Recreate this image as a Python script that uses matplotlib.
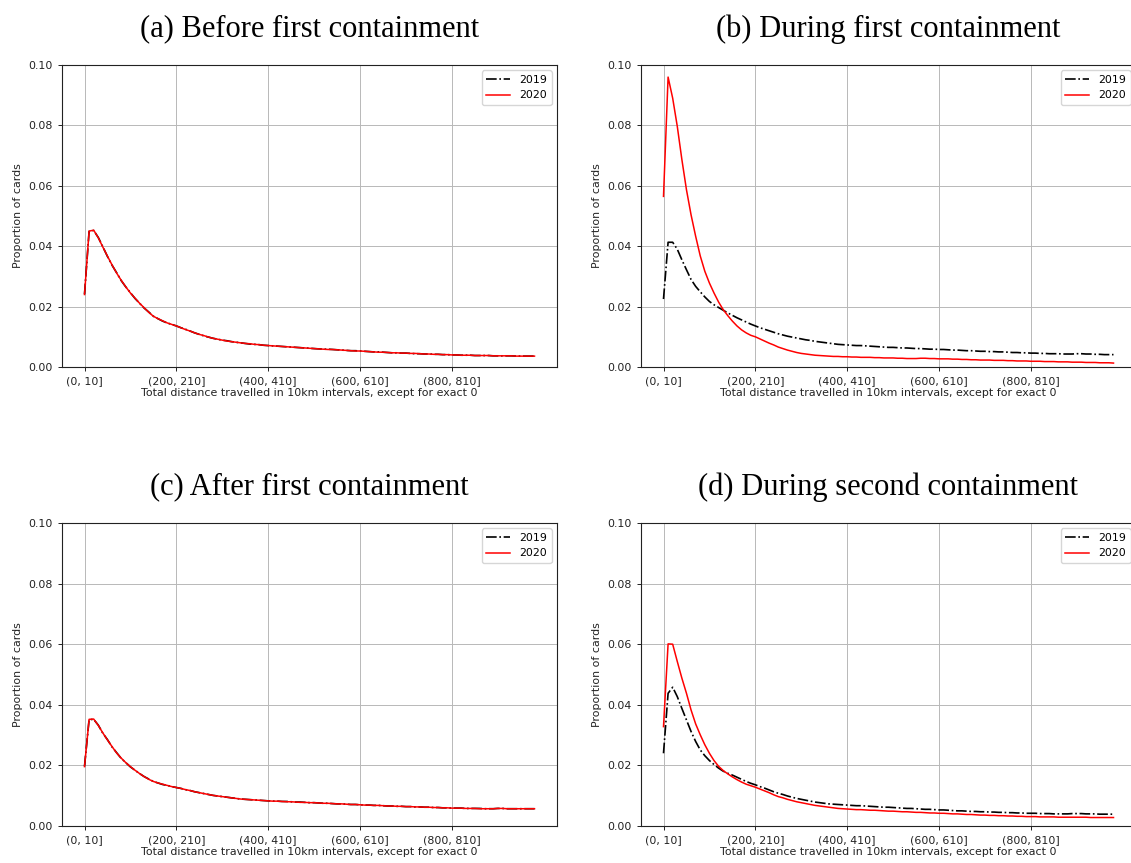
import numpy as np
import matplotlib
matplotlib.use("Agg")
import matplotlib.pyplot as plt

# proportion of cards per 10km distance bin, bins (0,10] ... (980,990]
a_2019 = [
    0.0241, 0.0449, 0.0452, 0.0429, 0.0398, 0.0366, 0.0337, 0.0312, 0.0286, 0.0265,
    0.0246, 0.0227, 0.0211, 0.0195, 0.0182, 0.0168, 0.0160, 0.0152, 0.0146, 0.0141,
    0.0136, 0.0130, 0.0125, 0.0119, 0.0113, 0.0108, 0.0103, 0.0099, 0.0095, 0.0092,
    0.0089, 0.0087, 0.0084, 0.0082, 0.0080, 0.0078, 0.0076, 0.0075, 0.0074, 0.0072,
    0.0071, 0.0070, 0.0069, 0.0068, 0.0067, 0.0066, 0.0065, 0.0064, 0.0063, 0.0062,
    0.0061, 0.0060, 0.0059, 0.0059, 0.0058, 0.0057, 0.0056, 0.0055, 0.0054, 0.0054,
    0.0053, 0.0052, 0.0051, 0.0050, 0.0050, 0.0049, 0.0048, 0.0047, 0.0047, 0.0046,
    0.0046, 0.0045, 0.0044, 0.0044, 0.0043, 0.0043, 0.0042, 0.0042, 0.0041, 0.0041,
    0.0040, 0.0040, 0.0039, 0.0039, 0.0039, 0.0038, 0.0038, 0.0038, 0.0038, 0.0037,
    0.0037, 0.0037, 0.0037, 0.0037, 0.0036, 0.0036, 0.0036, 0.0036, 0.0036]
a_2020 = [
    0.0240, 0.0450, 0.0453, 0.0428, 0.0397, 0.0367, 0.0338, 0.0311, 0.0287, 0.0265,
    0.0245, 0.0228, 0.0211, 0.0196, 0.0181, 0.0168, 0.0160, 0.0153, 0.0146, 0.0141,
    0.0136, 0.0130, 0.0124, 0.0119, 0.0113, 0.0108, 0.0104, 0.0099, 0.0095, 0.0092,
    0.0089, 0.0086, 0.0084, 0.0082, 0.0080, 0.0078, 0.0077, 0.0075, 0.0074, 0.0072,
    0.0071, 0.0070, 0.0069, 0.0068, 0.0067, 0.0066, 0.0065, 0.0064, 0.0063, 0.0062,
    0.0061, 0.0060, 0.0059, 0.0058, 0.0058, 0.0057, 0.0056, 0.0055, 0.0054, 0.0053,
    0.0053, 0.0052, 0.0051, 0.0050, 0.0049, 0.0049, 0.0048, 0.0047, 0.0047, 0.0046,
    0.0046, 0.0045, 0.0045, 0.0044, 0.0043, 0.0043, 0.0042, 0.0042, 0.0041, 0.0041,
    0.0040, 0.0040, 0.0039, 0.0039, 0.0039, 0.0038, 0.0038, 0.0038, 0.0038, 0.0037,
    0.0037, 0.0037, 0.0037, 0.0037, 0.0036, 0.0036, 0.0036, 0.0036, 0.0036]

b_2019 = [
    0.0225, 0.0413, 0.0413, 0.0390, 0.0355, 0.0322, 0.0290, 0.0267, 0.0249, 0.0232,
    0.0217, 0.0206, 0.0197, 0.0188, 0.0179, 0.0171, 0.0163, 0.0156, 0.0149, 0.0142,
    0.0136, 0.0130, 0.0125, 0.0120, 0.0115, 0.0110, 0.0106, 0.0102, 0.0099, 0.0096,
    0.0093, 0.0090, 0.0088, 0.0085, 0.0083, 0.0081, 0.0079, 0.0077, 0.0075, 0.0074,
    0.0073, 0.0072, 0.0071, 0.0071, 0.0070, 0.0069, 0.0068, 0.0067, 0.0066, 0.0065,
    0.0065, 0.0064, 0.0063, 0.0063, 0.0062, 0.0061, 0.0061, 0.0060, 0.0059, 0.0059,
    0.0058, 0.0058, 0.0057, 0.0056, 0.0056, 0.0055, 0.0054, 0.0054, 0.0053, 0.0052,
    0.0052, 0.0051, 0.0051, 0.0050, 0.0050, 0.0049, 0.0048, 0.0048, 0.0047, 0.0047,
    0.0046, 0.0046, 0.0045, 0.0045, 0.0044, 0.0044, 0.0044, 0.0043, 0.0043, 0.0043,
    0.0044, 0.0044, 0.0043, 0.0043, 0.0042, 0.0042, 0.0041, 0.0041, 0.0041]
b_2020 = [
    0.0565, 0.0960, 0.0890, 0.0797, 0.0687, 0.0587, 0.0504, 0.0433, 0.0368, 0.0317,
    0.0278, 0.0245, 0.0215, 0.0190, 0.0170, 0.0152, 0.0136, 0.0123, 0.0113, 0.0105,
    0.0100, 0.0093, 0.0086, 0.0079, 0.0073, 0.0066, 0.0061, 0.0056, 0.0052, 0.0048,
    0.0045, 0.0043, 0.0041, 0.0039, 0.0038, 0.0037, 0.0036, 0.0035, 0.0035, 0.0034,
    0.0034, 0.0033, 0.0033, 0.0032, 0.0032, 0.0032, 0.0031, 0.0031, 0.0030, 0.0030,
    0.0030, 0.0029, 0.0029, 0.0028, 0.0028, 0.0028, 0.0029, 0.0029, 0.0028, 0.0028,
    0.0027, 0.0027, 0.0027, 0.0026, 0.0026, 0.0025, 0.0025, 0.0024, 0.0024, 0.0023,
    0.0023, 0.0023, 0.0022, 0.0022, 0.0022, 0.0021, 0.0021, 0.0020, 0.0020, 0.0020,
    0.0019, 0.0019, 0.0019, 0.0018, 0.0018, 0.0018, 0.0017, 0.0017, 0.0017, 0.0016,
    0.0016, 0.0016, 0.0015, 0.0015, 0.0015, 0.0014, 0.0014, 0.0014, 0.0013]

c_2019 = [
    0.0197, 0.0351, 0.0352, 0.0333, 0.0306, 0.0285, 0.0261, 0.0242, 0.0223, 0.0209,
    0.0195, 0.0184, 0.0173, 0.0163, 0.0155, 0.0147, 0.0142, 0.0137, 0.0134, 0.0130,
    0.0127, 0.0124, 0.0120, 0.0117, 0.0113, 0.0110, 0.0107, 0.0104, 0.0101, 0.0099,
    0.0097, 0.0095, 0.0093, 0.0091, 0.0089, 0.0088, 0.0087, 0.0086, 0.0085, 0.0084,
    0.0083, 0.0082, 0.0082, 0.0081, 0.0081, 0.0080, 0.0079, 0.0079, 0.0078, 0.0077,
    0.0077, 0.0076, 0.0075, 0.0075, 0.0074, 0.0073, 0.0073, 0.0072, 0.0071, 0.0071,
    0.0070, 0.0069, 0.0069, 0.0068, 0.0068, 0.0067, 0.0066, 0.0066, 0.0065, 0.0065,
    0.0064, 0.0064, 0.0063, 0.0063, 0.0062, 0.0062, 0.0061, 0.0061, 0.0060, 0.0060,
    0.0059, 0.0059, 0.0059, 0.0058, 0.0058, 0.0058, 0.0058, 0.0057, 0.0057, 0.0057,
    0.0058, 0.0058, 0.0057, 0.0057, 0.0057, 0.0057, 0.0057, 0.0057, 0.0057]
c_2020 = [
    0.0196, 0.0352, 0.0353, 0.0332, 0.0307, 0.0284, 0.0262, 0.0241, 0.0224, 0.0209,
    0.0196, 0.0184, 0.0173, 0.0163, 0.0154, 0.0147, 0.0142, 0.0138, 0.0134, 0.0130,
    0.0127, 0.0124, 0.0120, 0.0117, 0.0113, 0.0110, 0.0107, 0.0104, 0.0101, 0.0099,
    0.0097, 0.0095, 0.0093, 0.0091, 0.0089, 0.0088, 0.0087, 0.0086, 0.0085, 0.0084,
    0.0083, 0.0082, 0.0082, 0.0081, 0.0080, 0.0080, 0.0079, 0.0078, 0.0078, 0.0077,
    0.0077, 0.0076, 0.0075, 0.0075, 0.0074, 0.0073, 0.0073, 0.0072, 0.0071, 0.0071,
    0.0070, 0.0069, 0.0069, 0.0068, 0.0068, 0.0067, 0.0066, 0.0066, 0.0065, 0.0065,
    0.0064, 0.0064, 0.0063, 0.0063, 0.0062, 0.0062, 0.0061, 0.0061, 0.0060, 0.0060,
    0.0059, 0.0059, 0.0059, 0.0058, 0.0058, 0.0058, 0.0057, 0.0057, 0.0057, 0.0057,
    0.0058, 0.0058, 0.0057, 0.0057, 0.0057, 0.0057, 0.0057, 0.0057, 0.0057]

d_2019 = [
    0.0240, 0.0438, 0.0458, 0.0427, 0.0388, 0.0350, 0.0312, 0.0279, 0.0251, 0.0232,
    0.0216, 0.0203, 0.0191, 0.0181, 0.0174, 0.0168, 0.0161, 0.0154, 0.0147, 0.0141,
    0.0136, 0.0130, 0.0125, 0.0119, 0.0113, 0.0108, 0.0104, 0.0099, 0.0095, 0.0091,
    0.0088, 0.0085, 0.0082, 0.0079, 0.0077, 0.0075, 0.0073, 0.0072, 0.0071, 0.0070,
    0.0069, 0.0068, 0.0067, 0.0067, 0.0066, 0.0065, 0.0064, 0.0063, 0.0062, 0.0062,
    0.0061, 0.0060, 0.0059, 0.0058, 0.0058, 0.0057, 0.0056, 0.0055, 0.0055, 0.0054,
    0.0053, 0.0053, 0.0052, 0.0051, 0.0050, 0.0050, 0.0049, 0.0048, 0.0048, 0.0047,
    0.0047, 0.0046, 0.0046, 0.0045, 0.0045, 0.0044, 0.0044, 0.0043, 0.0043, 0.0042,
    0.0042, 0.0042, 0.0041, 0.0041, 0.0041, 0.0040, 0.0040, 0.0040, 0.0040, 0.0041,
    0.0041, 0.0041, 0.0040, 0.0040, 0.0040, 0.0039, 0.0039, 0.0039, 0.0039]
d_2020 = [
    0.0328, 0.0601, 0.0600, 0.0543, 0.0488, 0.0438, 0.0383, 0.0337, 0.0301, 0.0268,
    0.0240, 0.0216, 0.0197, 0.0183, 0.0172, 0.0162, 0.0153, 0.0145, 0.0138, 0.0133,
    0.0128, 0.0122, 0.0116, 0.0110, 0.0103, 0.0097, 0.0093, 0.0088, 0.0084, 0.0080,
    0.0077, 0.0074, 0.0071, 0.0068, 0.0066, 0.0064, 0.0062, 0.0060, 0.0058, 0.0057,
    0.0056, 0.0055, 0.0054, 0.0054, 0.0053, 0.0052, 0.0052, 0.0051, 0.0050, 0.0049,
    0.0049, 0.0048, 0.0047, 0.0047, 0.0046, 0.0045, 0.0045, 0.0044, 0.0043, 0.0043,
    0.0042, 0.0042, 0.0041, 0.0040, 0.0040, 0.0039, 0.0038, 0.0038, 0.0037, 0.0036,
    0.0036, 0.0035, 0.0035, 0.0034, 0.0034, 0.0033, 0.0033, 0.0032, 0.0032, 0.0031,
    0.0031, 0.0031, 0.0030, 0.0030, 0.0030, 0.0030, 0.0029, 0.0029, 0.0029, 0.0029,
    0.0029, 0.0029, 0.0029, 0.0028, 0.0028, 0.0028, 0.0028, 0.0028, 0.0028]

titles = ["(a) Before first containment", "(b) During first containment",
          "(c) After first containment", "(d) During second containment"]
tick_pos = [0, 20, 40, 60, 80]
tick_labels = ["(0, 10]", "(200, 210]", "(400, 410]", "(600, 610]", "(800, 810]"]

panels = [(a_2019, a_2020), (b_2019, b_2020), (c_2019, c_2020), (d_2019, d_2020)]

W, H = 1131, 863
fig = plt.figure(figsize=(W / 100, H / 100), dpi=100)
plt.rcParams['font.family'] = 'DejaVu Sans'

# axes boxes in pixels: left, top, right, bottom
boxes = [(62, 65, 557, 367), (641, 65, 1136, 367),
         (62, 523, 557, 826), (641, 523, 1136, 826)]

for (y19, y20), title, (l, t, r, b) in zip(panels, titles, boxes):
    ax = fig.add_axes([l / W, 1 - b / H, (r - l) / W, (b - t) / H])
    x = np.arange(len(y19))
    ax.plot(x, y19, color='black', linestyle='-.', linewidth=1.2, label='2019')
    ax.plot(x, y20, color='red', linestyle='-', linewidth=1.1, label='2020')
    ax.set_ylim(0, 0.10)
    ax.set_yticks([0.0, 0.02, 0.04, 0.06, 0.08, 0.10])
    ax.set_xticks(tick_pos)
    ax.set_xticklabels(tick_labels)
    ax.tick_params(labelsize=7.9, length=3, width=0.7, pad=3.5, colors='#222222')
    ax.grid(True, color='#b8b8b8', linewidth=0.7)
    for s in ax.spines.values():
        s.set_linewidth(0.8)
        s.set_color('#222222')
    ax.set_ylabel("Proportion of cards", fontsize=7.9, labelpad=4, color='#222222')
    ax.set_xlabel("Total distance travelled in 10km intervals, except for exact 0",
                  fontsize=7.9, labelpad=1.5, color='#222222')
    ax.legend(loc='upper right', fontsize=7.9, handlelength=2.2)
    fig.text((l + r) / 2 / W, 1 - (t - 36) / H, title,
             family='Liberation Serif', fontsize=22, ha='center', va='center')

fig.savefig("out.png", dpi=100)
